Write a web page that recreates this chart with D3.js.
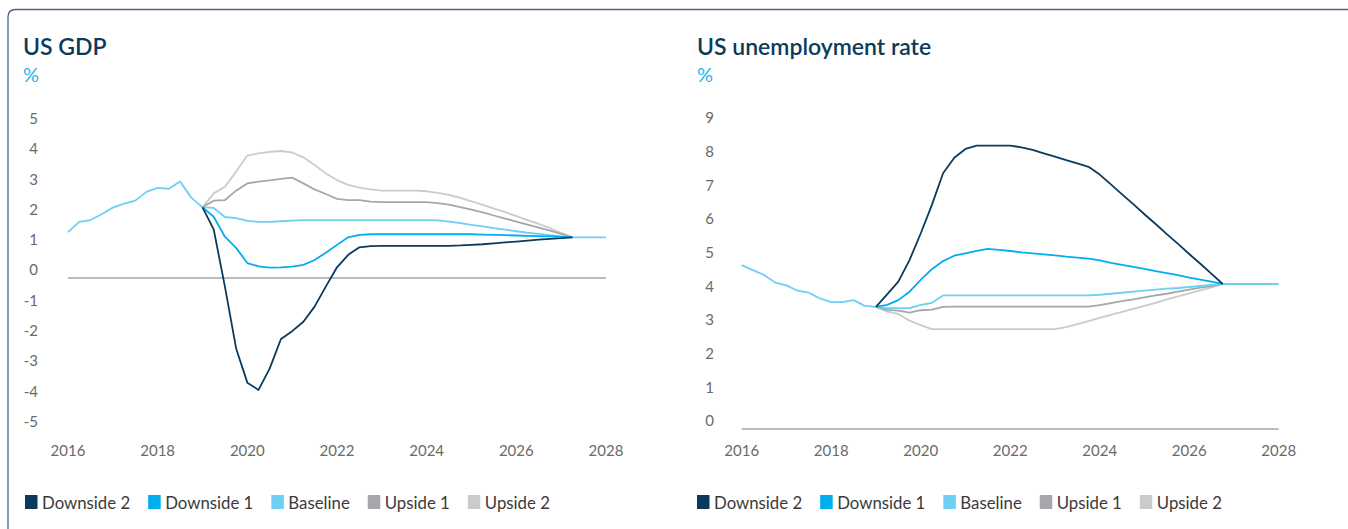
<!DOCTYPE html>
<html><head><meta charset="utf-8">
<script src="https://cdn.jsdelivr.net/npm/d3@7"></script>
<style>
html,body{margin:0;padding:0;background:#fff;}
svg{display:block;}
</style></head><body>
<svg id="chart" width="1348" height="529"></svg>
<script>
// ---------------- DATA ----------------
const seriesNames  = ["Downside 2", "Downside 1", "Baseline", "Upside 1", "Upside 2"];
const seriesColors = ["#0a3a5c", "#00aeef", "#6dcff6", "#a6a7aa", "#cacbcd"];
const xTicks = [2016, 2018, 2020, 2022, 2024, 2026, 2028];
const gdpYTicks = [5, 4, 3, 2, 1, 0, -1, -2, -3, -4, -5];
const unempYTicks = [9, 8, 7, 6, 5, 4, 3, 2, 1, 0];
const historyStart = 2016;   // quarterly series starting 2016 Q1
const forecastStart = 2019;  // scenarios start 2019 Q1

// US GDP, % (quarterly). Baseline includes history 2016-2019 and runs to 2028.
const gdpBaseline = [1.25, 1.59, 1.65, 1.84, 2.06, 2.19, 2.29, 2.58, 2.71, 2.68, 2.92, 2.39, 2.07,
  2.05, 1.75, 1.71, 1.62, 1.59, 1.59, 1.61, 1.63, 1.65, 1.65, 1.65, 1.65, 1.65, 1.65, 1.65, 1.65,
  1.65, 1.65, 1.65, 1.65, 1.64, 1.60, 1.55, 1.49, 1.44, 1.38, 1.33, 1.28, 1.23, 1.19, 1.15, 1.11,
  1.08, 1.08, 1.08, 1.08];
const gdpDownside2 = [2.07, 1.34, -0.55, -2.59, -3.72, -3.96, -3.25, -2.28, -2.02, -1.71, -1.21, -0.55,
  0.09, 0.50, 0.75, 0.79, 0.80, 0.80, 0.80, 0.80, 0.80, 0.80, 0.80, 0.81, 0.83, 0.85, 0.88, 0.91,
  0.94, 0.97, 1.00, 1.03, 1.05, 1.08];
const gdpDownside1 = [2.07, 1.76, 1.10, 0.73, 0.23, 0.12, 0.08, 0.09, 0.11, 0.17, 0.33, 0.57, 0.83,
  1.08, 1.16, 1.18, 1.18, 1.18, 1.18, 1.18, 1.18, 1.18, 1.18, 1.18, 1.18, 1.17, 1.16, 1.15, 1.14,
  1.13, 1.12, 1.11, 1.10, 1.08];
const gdpUpside1 = [2.07, 2.29, 2.31, 2.62, 2.86, 2.92, 2.96, 3.01, 3.05, 2.86, 2.66, 2.51, 2.35,
  2.31, 2.31, 2.26, 2.24, 2.24, 2.24, 2.24, 2.24, 2.21, 2.16, 2.08, 1.99, 1.90, 1.80, 1.70, 1.60,
  1.50, 1.40, 1.30, 1.19, 1.08];
const gdpUpside2 = [2.07, 2.53, 2.75, 3.25, 3.78, 3.85, 3.90, 3.93, 3.88, 3.72, 3.47, 3.19, 2.97,
  2.81, 2.72, 2.66, 2.62, 2.62, 2.62, 2.62, 2.60, 2.55, 2.48, 2.38, 2.27, 2.15, 2.03, 1.91, 1.78,
  1.65, 1.52, 1.38, 1.23, 1.08];

// US unemployment rate, % (quarterly). Baseline includes history 2016-2019 and runs to 2028.
const unBaseline = [4.63, 4.48, 4.34, 4.11, 4.03, 3.87, 3.81, 3.64, 3.53, 3.53, 3.59, 3.42, 3.39,
  3.35, 3.35, 3.35, 3.45, 3.51, 3.73, 3.73, 3.73, 3.73, 3.73, 3.73, 3.73, 3.73, 3.73, 3.73, 3.73,
  3.73, 3.73, 3.73, 3.75, 3.78, 3.81, 3.84, 3.87, 3.90, 3.93, 3.95, 3.98, 4.01, 4.04, 4.07,
  4.07, 4.07, 4.07, 4.07, 4.07];
const unDownside2 = [3.39, 3.76, 4.14, 4.78, 5.57, 6.42, 7.36, 7.82, 8.08, 8.18, 8.18, 8.18, 8.18,
  8.13, 8.05, 7.95, 7.85, 7.75, 7.65, 7.55, 7.32, 7.03, 6.73, 6.44, 6.14, 5.85, 5.55, 5.26, 4.96,
  4.67, 4.37, 4.07];
const unDownside1 = [3.39, 3.45, 3.59, 3.84, 4.19, 4.51, 4.75, 4.91, 4.98, 5.05, 5.11, 5.08, 5.05,
  5.01, 4.98, 4.95, 4.92, 4.88, 4.85, 4.82, 4.77, 4.70, 4.64, 4.58, 4.52, 4.45, 4.39, 4.33, 4.26,
  4.20, 4.14, 4.07];
const unUpside1 = [3.39, 3.30, 3.28, 3.22, 3.29, 3.31, 3.39, 3.40, 3.40, 3.40, 3.40, 3.40, 3.40,
  3.40, 3.40, 3.40, 3.40, 3.40, 3.40, 3.40, 3.44, 3.50, 3.56, 3.61, 3.67, 3.73, 3.78, 3.84, 3.90,
  3.96, 4.01, 4.07];
const unUpside2 = [3.39, 3.25, 3.18, 2.98, 2.85, 2.73, 2.73, 2.73, 2.73, 2.73, 2.73, 2.73, 2.73,
  2.73, 2.73, 2.73, 2.73, 2.79, 2.88, 2.97, 3.06, 3.15, 3.24, 3.33, 3.42, 3.51, 3.61, 3.70, 3.79,
  3.88, 3.97, 4.07];

// ---------------- DRAWING ----------------
const svg = d3.select("#chart");
const FONT = "Lato, 'Open Sans', 'DejaVu Sans', sans-serif";

// outer frame (rounded top-left corner)
svg.append("path")
  .attr("d", "M8,560 V17 Q8,9.5 15.5,9.5 H1400")
  .attr("fill", "none").attr("stroke", "#4a6680").attr("stroke-width", 1.3);

function addText(parent, x, y, str, size, color, weight) {
  const t = parent.append("text").attr("x", x).attr("y", y).text(str)
    .attr("font-family", FONT).attr("font-size", size)
    .attr("font-weight", weight || 400).attr("fill", color);
  return t.node().getComputedTextLength();
}

function drawPanel(cfg) {
  const g = svg.append("g");
  const x = d3.scaleLinear().domain([2016, 2028]).range(cfg.xRange);
  const y = d3.scaleLinear().domain(cfg.yDomain).range(cfg.yRange);

  addText(g, cfg.titleX, 55, cfg.title, 23, "#0b3a5b", 600);
  addText(g, cfg.titleX, 82, "%", 20, "#27b4ea", 400);

  // y tick labels
  g.selectAll(".ytick").data(cfg.yTicks).join("text")
    .attr("x", cfg.tickRight).attr("y", d => y(d)).attr("dy", "0.36em")
    .attr("text-anchor", "end").attr("font-family", FONT).attr("font-size", 15)
    .attr("fill", "#6a6a6a").text(d => d);

  // x tick labels
  g.selectAll(".xtick").data(xTicks).join("text")
    .attr("x", d => x(d)).attr("y", 456)
    .attr("text-anchor", "middle").attr("font-family", FONT).attr("font-size", 15)
    .attr("fill", "#6a6a6a").text(d => d);

  // reference line (drawn slightly below the zero label, as in the source)
  g.append("line")
    .attr("x1", cfg.xRange[0]).attr("x2", cfg.xRange[1])
    .attr("y1", y(0) + 8).attr("y2", y(0) + 8)
    .attr("stroke", "#7a7a7a").attr("stroke-width", 1.2);

  const line = d3.line().x(d => x(d.t)).y(d => y(d.v));
  // draw order: upside 2, upside 1, baseline, downside 1, downside 2
  [4, 3, 2, 1, 0].forEach(i => {
    const vals = cfg.series[i];
    const start = i === 2 ? historyStart : forecastStart;
    const pts = vals.map((v, k) => ({ t: start + k / 4, v }));
    g.append("path").datum(pts).attr("d", line)
      .attr("fill", "none").attr("stroke", seriesColors[i])
      .attr("stroke-width", 1.8).attr("stroke-linejoin", "round");
  });

  // legend
  let lx = cfg.legendX;
  seriesNames.forEach((name, i) => {
    g.append("rect").attr("x", lx).attr("y", 495).attr("width", 12.5).attr("height", 14)
      .attr("fill", seriesColors[i]);
    const w = addText(g, lx + 17, 509, name, 16.8, "#3a3a3a", 400);
    lx += 17 + w + 18;
  });
}

drawPanel({
  title: "US GDP", titleX: 23, xRange: [68, 606], yDomain: [-5, 5], yRange: [421.4, 118.6],
  yTicks: gdpYTicks, tickRight: 38, legendX: 25,
  series: [gdpDownside2, gdpDownside1, gdpBaseline, gdpUpside1, gdpUpside2]
});
drawPanel({
  title: "US unemployment rate", titleX: 697, xRange: [741.7, 1278.7], yDomain: [0, 9], yRange: [421, 118],
  yTicks: unempYTicks, tickRight: 714, legendX: 697,
  series: [unDownside2, unDownside1, unBaseline, unUpside1, unUpside2]
});
</script>
</body></html>
